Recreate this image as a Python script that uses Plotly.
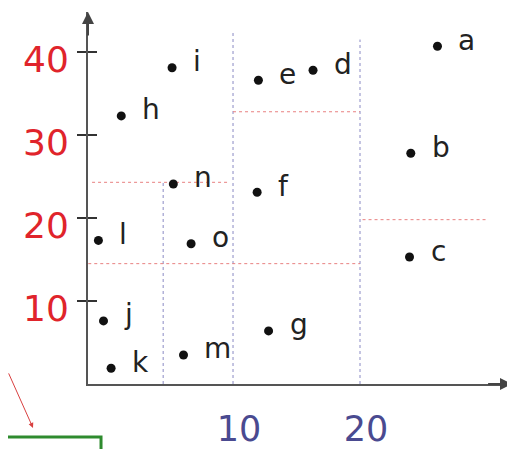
import plotly.graph_objects as go

# points of the k-d tree example
labels = ["a", "b", "c", "d", "e", "f", "g", "h", "i", "j", "k", "l", "m", "n", "o"]
xs = [26.1, 24.0, 23.9, 16.3, 12.0, 11.9, 12.8, 1.2, 5.2, -0.2, 0.4, -0.6, 6.1, 5.3, 6.7]
ys = [40.7, 27.8, 15.3, 37.8, 36.6, 23.1, 6.4, 32.3, 38.1, 7.6, 1.9, 17.3, 3.5, 24.1, 16.9]

# vertical splits (x, from y0 to y1)
vsplit_x = [10, 20, 4.5]
vsplit_y0 = [0, 0, 0]
vsplit_y1 = [42.3, 41.5, 24.3]

# horizontal splits (y, from x0 to x1)
hsplit_y = [24.3, 14.5, 32.8, 19.8]
hsplit_x0 = [-1.1, -1.4, 10, 20.2]
hsplit_x1 = [9.6, 20, 20, 30.1]

xticks = [10, 20]
yticks = [10, 20, 30, 40]

x_range = [-1.42, 31.97]
y_range = [0, 44.82]

fig = go.Figure()

vx, vy = [], []
for x, y0, y1 in zip(vsplit_x, vsplit_y0, vsplit_y1):
    vx += [x, x, None]
    vy += [y0, y1, None]
fig.add_trace(go.Scatter(x=vx, y=vy, mode="lines", hoverinfo="skip",
                         line={"color": "#8a8ac4", "width": 1, "dash": "dot"}))

hx, hy = [], []
for y, x0, x1 in zip(hsplit_y, hsplit_x0, hsplit_x1):
    hx += [x0, x1, None]
    hy += [y, y, None]
fig.add_trace(go.Scatter(x=hx, y=hy, mode="lines", hoverinfo="skip",
                         line={"color": "#e88080", "width": 1, "dash": "dot"}))

fig.add_trace(go.Scatter(x=xs, y=ys, mode="markers",
                         marker={"color": "#111111", "size": 9}))

for lab, x, y in zip(labels, xs, ys):
    fig.add_annotation(x=x, y=y, text=lab, showarrow=False, xanchor="left",
                       xshift=19, yshift=6,
                       font={"family": "DejaVu Sans", "size": 28, "color": "#222222"})

# axis arrowheads
fig.add_annotation(x=x_range[0], y=y_range[1], ax=x_range[0], ay=y_range[1] - 3,
                   xref="x", yref="y", axref="x", ayref="y", text="",
                   showarrow=True, arrowhead=2, arrowsize=1.2, arrowwidth=2,
                   arrowcolor="#444444")
fig.add_annotation(x=x_range[1], y=0, ax=x_range[1] - 2, ay=0,
                   xref="x", yref="y", axref="x", ayref="y", text="",
                   showarrow=True, arrowhead=2, arrowsize=1.2, arrowwidth=2,
                   arrowcolor="#444444")

# red pointer and green box below the plot
fig.add_annotation(x=-0.1297, y=-0.118, xref="paper", yref="paper", text="",
                   ax=-33, ay=-56, showarrow=True, arrowhead=2, arrowsize=1,
                   arrowwidth=1, arrowcolor="#d84040")
fig.add_shape(type="rect", xref="paper", yref="paper",
              x0=-0.23, x1=0.0307, y0=-0.1425, y1=-0.25,
              line={"color": "#2e8b2e", "width": 3})

# page body adds 8px, so the figure is 8px smaller and shifted
fig.update_layout(
    width=507,
    height=441,
    margin={"l": 80, "r": 3, "t": 4, "b": 65},
    paper_bgcolor="white",
    plot_bgcolor="white",
    showlegend=False,
    xaxis={
        "range": x_range, "showgrid": False, "zeroline": False,
        "automargin": False,
        "showline": True, "linecolor": "#555555", "linewidth": 2,
        "tickvals": xticks, "ticks": "", "ticklabelstandoff": 13,
        "ticklabelshift": 6,
        "tickfont": {"family": "DejaVu Sans", "size": 35, "color": "#4a4a90"},
    },
    yaxis={
        "range": y_range, "showgrid": False, "zeroline": False,
        "automargin": False,
        "showline": True, "linecolor": "#555555", "linewidth": 2,
        "tickvals": yticks, "ticks": "outside", "ticklen": 9, "tickwidth": 1.5,
        "tickcolor": "#333333", "ticklabelstandoff": 1, "ticklabelshift": 7,
        "tickfont": {"family": "DejaVu Sans", "size": 36, "color": "#e0242b"},
    },
    yaxis2={
        "range": y_range, "overlaying": "y", "side": "left", "showgrid": False,
        "zeroline": False, "showline": False, "tickvals": yticks,
        "automargin": False,
        "ticks": "inside", "ticklen": 9, "tickwidth": 1.5, "tickcolor": "#333333",
        "showticklabels": False,
    },
)
fig.add_trace(go.Scatter(x=[None], y=[None], yaxis="y2", showlegend=False))

fig.write_html("out.html")
